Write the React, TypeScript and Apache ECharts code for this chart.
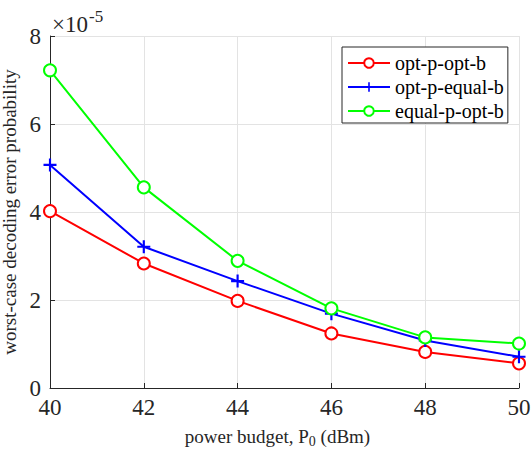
import React, { useEffect, useRef } from "react";
import * as echarts from "echarts";

const xValues = [40, 42, 44, 46, 48, 50];
const optPOptB = [4.02, 2.83, 1.98, 1.24, 0.82, 0.56];
const optPEqualB = [5.07, 3.21, 2.43, 1.69, 1.08, 0.71];
const equalPOptB = [7.22, 4.56, 2.89, 1.81, 1.15, 1.01];
const seriesNames = ["opt-p-opt-b", "opt-p-equal-b", "equal-p-opt-b"];

const FONT = "Liberation Serif";
const PLUS = "path://M5,0 H7 V5 H12 V7 H7 V12 H5 V7 H0 V5 H5 Z";

export default function App() {
  const ref = useRef<HTMLDivElement>(null);
  useEffect(() => {
    if (!ref.current) return;
    const chart = echarts.init(ref.current, null, { renderer: "svg" });
    const mk = (ys: number[]) => xValues.map((x, i) => [x, ys[i]]);
    const lbl = { fontFamily: FONT, fontSize: 23, color: "#262626" };
    chart.setOption({
      animation: false,
      backgroundColor: "#fff",
      textStyle: { fontFamily: FONT },
      grid: { left: 50, top: 36, right: 13, bottom: 65, containLabel: false, outerBoundsMode: "none" },
      legend: {
        orient: "vertical",
        left: 342,
        top: 47,
        padding: [6, 4, 2, 5],
        itemGap: 4,
        itemWidth: 42,
        itemHeight: 12,
        borderColor: "#262626",
        borderWidth: 1,
        backgroundColor: "#fff",
        textStyle: { fontFamily: FONT, fontSize: 20, color: "#000", lineHeight: 20 },
        data: seriesNames,
      },
      graphic: [
        {
          type: "text",
          x: 52,
          y: 24,
          style: { text: "×10", fontFamily: FONT, fontSize: 23, fill: "#262626", verticalAlign: "middle", align: "left" },
        },
        {
          type: "text",
          x: 89,
          y: 16,
          style: { text: "-5", fontFamily: FONT, fontSize: 17, fill: "#262626", verticalAlign: "middle", align: "left" },
        },
      ],
      xAxis: {
        type: "value",
        min: 40,
        max: 50,
        interval: 2,
        name: "{n|power budget, P}{s|0}{n| (dBm)}",
        nameLocation: "middle",
        nameGap: 37,
        nameTextStyle: {
          fontFamily: FONT,
          padding: [0, 14, 0, 0],
          rich: {
            n: { fontFamily: FONT, fontSize: 19, color: "#262626" },
            s: { fontFamily: FONT, fontSize: 14, color: "#262626", verticalAlign: "bottom", padding: [9, 0, 0, 0] },
          },
        },
        axisLine: { show: true, onZero: false, lineStyle: { color: "#262626", width: 1 } },
        axisTick: { show: true, inside: true, length: 5, lineStyle: { color: "#262626" } },
        axisLabel: { ...lbl, margin: 8 },
        splitLine: { show: true, lineStyle: { color: "#e3e3e3", width: 1 } },
      },
      yAxis: {
        type: "value",
        min: 0,
        max: 8,
        interval: 2,
        name: "worst-case decoding error probability",
        nameLocation: "middle",
        nameGap: 23,
        nameTextStyle: { fontFamily: FONT, fontSize: 19, color: "#262626" },
        axisLine: { show: true, onZero: false, lineStyle: { color: "#262626", width: 1 } },
        axisTick: { show: true, inside: true, length: 5, lineStyle: { color: "#262626" } },
        axisLabel: { ...lbl, margin: 9 },
        splitLine: { show: true, lineStyle: { color: "#e3e3e3", width: 1 } },
      },
      series: [
        {
          name: seriesNames[0],
          type: "line",
          data: mk(optPOptB),
          symbol: "emptyCircle",
          symbolSize: 12,
          lineStyle: { color: "#ff0000", width: 2 },
          itemStyle: { color: "#ff0000", borderWidth: 2 },
        },
        {
          name: seriesNames[1],
          type: "line",
          data: mk(optPEqualB),
          symbol: PLUS,
          symbolSize: 13,
          lineStyle: { color: "#0000ff", width: 2 },
          itemStyle: { color: "#0000ff", borderWidth: 0 },
        },
        {
          name: seriesNames[2],
          type: "line",
          data: mk(equalPOptB),
          symbol: "emptyCircle",
          symbolSize: 12,
          lineStyle: { color: "#00ff00", width: 2 },
          itemStyle: { color: "#00ff00", borderWidth: 2 },
        },
      ],
    });
    return () => chart.dispose();
  }, []);
  return <div ref={ref} style={{ width: 532, height: 453, position: "absolute", left: 0, top: 0 }} />;
}
